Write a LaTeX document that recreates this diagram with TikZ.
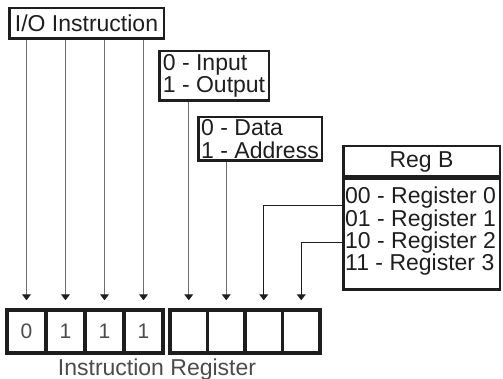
\documentclass[tikz,border=0pt]{standalone}
\usepackage{fontspec}
\setmainfont{Liberation Sans}
\usetikzlibrary{arrows.meta}
\definecolor{ink}{RGB}{30,30,30}
\definecolor{wire}{RGB}{110,110,110}
\newcommand{\boxfont}{\fontsize{23}{22.3}\selectfont}
\tikzset{
  >={Triangle[length=6pt,width=9pt,color=ink]},
  field/.style={draw=ink,line width=2.5pt,inner sep=1pt,font=\boxfont,text=ink,
    align=left,anchor=north west},
  bit/.style={draw=ink,line width=3.5pt,minimum height=43pt,inner sep=0pt,
    font=\fontsize{21}{21}\selectfont,text=ink!80},
  feed/.style={->,draw=wire,line width=1pt,shorten >=8pt},
  sel/.style={->,draw=ink,line width=1pt,shorten >=8pt},
}

\begin{document}
\begin{tikzpicture}[x=1pt,y=-1pt]
  \useasboundingbox (0,0) rectangle (503,379);
  \foreach \b [count=\i] in {0,1,1,1}
    \node[bit,minimum width=39pt] (c\i) at (-12.5+39*\i,331.5) {\b};
  \foreach \i in {5,...,8}
    \node[bit,minimum width=37.5pt] (c\i) at (1.25+37.5*\i,331.5) {};
  \node[font=\boxfont,text=ink!80,anchor=base] (ir) at (157,375) {Instruction Register};

  \node[field,minimum width=154.5pt,minimum height=30.5pt,align=center] (io) at (8,7) {I/O Instruction};
  \node[field,minimum width=109.5pt,minimum height=49.5pt] (dir) at (158,50) {0 - Input\\1 - Output};
  \node[field,minimum width=123.5pt,minimum height=43.5pt] (mode) at (197,116) {0 - Data\\1 - Address};
  \node[field,minimum width=156.5pt,minimum height=30.5pt,align=center] (rbh) at (342,145) {Reg B};
  \node[field,minimum width=156.5pt,minimum height=110pt,anchor=north] (rbb) at (rbh.south) {};
  \node[font=\boxfont,text=ink,align=left,anchor=north west,inner sep=1pt] (rbl) at (344,186)
    {00 - Register 0\\01 - Register 1\\10 - Register 2\\11 - Register 3};

  \foreach \i in {1,...,4} \draw[feed] (io.south -| c\i) -- (c\i.north);
  \draw[feed] (dir.south -| c5) -- (c5.north);
  \draw[feed] (mode.south -| c6) -- (c6.north);
  \coordinate (hi) at (rbb.west |- 0,206);
  \coordinate (lo) at (rbb.west |- 0,243);
  \draw[sel] (hi) -| (c7.north);
  \draw[sel] (lo) -| (c8.north);
\end{tikzpicture}
\end{document}
